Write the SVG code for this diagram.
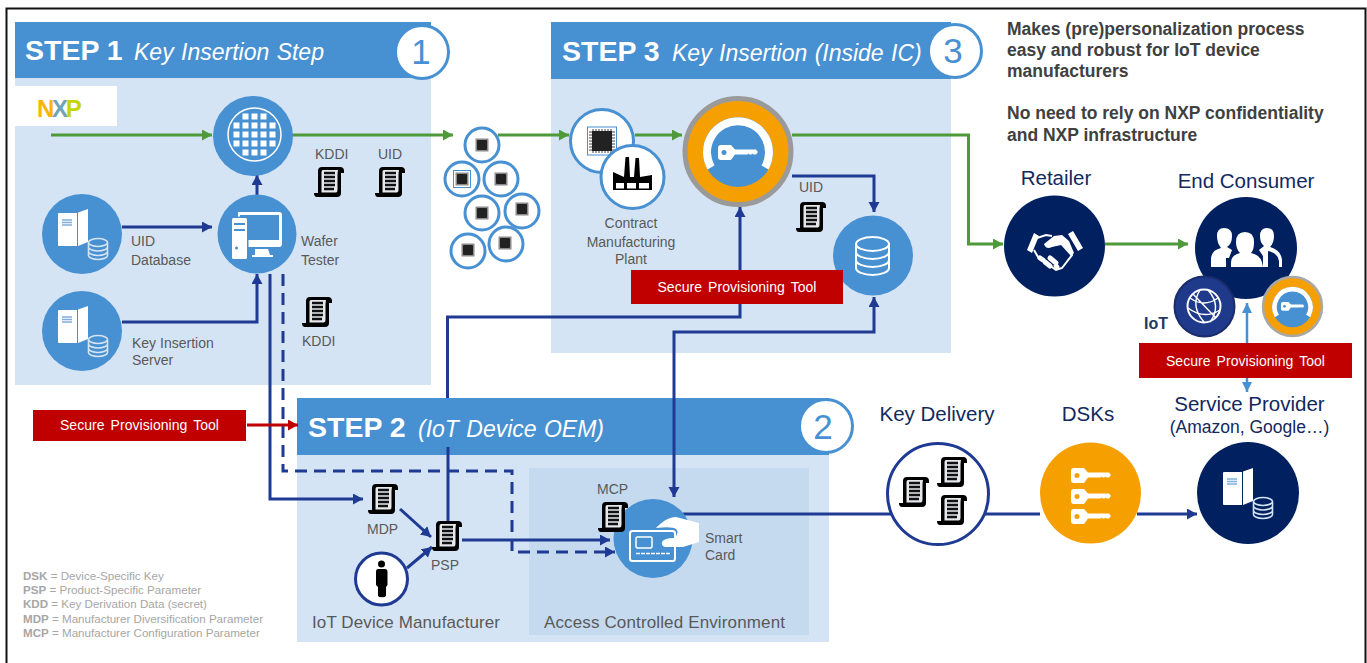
<svg xmlns="http://www.w3.org/2000/svg" width="1367" height="663" viewBox="0 0 1367 663">
<style>
text{font-family:"Liberation Sans",Arial,sans-serif}
.hd{fill:#4790D2}.bd{fill:#D5E4F4}
.st{font-size:28.500px;font-weight:700;fill:#fff}
.si{font-size:23px;font-style:italic;fill:#fff;word-spacing:1px}
.num{font-size:35px;fill:#4790D2;text-anchor:middle}
.nc{fill:#fff;stroke:#4790D2;stroke-width:3}
.lb{font-size:14px;fill:#595959}
.lm{font-size:17px;fill:#595959}
.tt{font-size:20.500px;fill:#12295E;text-anchor:middle}
.rt{font-size:14px;fill:#fff;text-anchor:middle;word-spacing:2px;letter-spacing:.05px}
.rd{fill:#C00000}
.kp{font-size:17.500px;font-weight:700;fill:#404040}
.lg{font-size:11.600px;fill:#A6A6A6}
.lg tspan{font-weight:700}
.n{fill:none;stroke:#1F3A93;stroke-width:3}
.g{fill:none;stroke:#4E9A3B;stroke-width:3}
.w{fill:none;stroke:#fff;stroke-width:2}
.navy{fill:#012060}.blue{fill:#4790D2}
</style>
<defs>
<marker id="an" markerUnits="userSpaceOnUse" markerWidth="12" markerHeight="12" refX="10" refY="5.5" orient="auto-start-reverse"><path d="M0 0L10 5.500L0 11Z" fill="#1F3A93"/></marker>
<marker id="ag" markerUnits="userSpaceOnUse" markerWidth="12" markerHeight="12" refX="10" refY="5.5" orient="auto"><path d="M0 0L10 5.500L0 11Z" fill="#4E9A3B"/></marker>
<marker id="ar" markerUnits="userSpaceOnUse" markerWidth="12" markerHeight="12" refX="10" refY="5.5" orient="auto"><path d="M0 0L10 5.500L0 11Z" fill="#C00000"/></marker>
<marker id="ab" markerUnits="userSpaceOnUse" markerWidth="12" markerHeight="12" refX="10" refY="5" orient="auto-start-reverse"><path d="M0 0L10 5L0 10Z" fill="#4790D2"/></marker>
<symbol id="scroll" overflow="visible">
<path d="M8 0H26Q30 0 30 4L30 6H27V26Q27 30 23 30H3Q0 30 0 26H4V4Q4 0 8 0Z" fill="#000"/>
<path d="M9 3H24Q23.500 6 23.500 8V23Q23.500 25 22 25.500H7.500V5Q7.500 3 9 3Z" fill="#E6E8EC"/>
<path d="M10 6H21M10 10H21M10 14H21M10 18H21M10 22H20" stroke="#111" stroke-width="2.500" fill="none"/>
</symbol>
<symbol id="server" overflow="visible">
<path d="M-23 -21H-5V12H-23Q-24 12-24 11V-20Q-24-21-23-21ZM-4-21.500L6-25V8L-4 12Z" fill="#fff"/>
<path d="M-20-14H-10M-20-11.500H-10M-20-9H-10" stroke="#7FAEDD" stroke-width="1.600"/>
<path d="M6.500 8.500a9.500 4 0 0 1 19 0v13a9.500 4 0 0 1-19 0ZM6.500 8.500a9.500 4 0 0 0 19 0M6.500 13a9.500 4 0 0 0 19 0M6.500 17.500a9.500 4 0 0 0 19 0" fill="none" stroke="#D5E4F4" stroke-width="1.600"/>
</symbol>
<symbol id="key" overflow="visible">
<path fill-rule="evenodd" fill="#fff" d="M3 0H13L17 4.500H38L40 7L38 9.500H35.500L34.500 8.500L33.500 9.500H31.500L30.500 8.500L29.500 9.500H17L13 15H3Q0 15 0 12V3Q0 0 3 0ZM6 5A2.500 2.500 0 1 0 6 10A2.500 2.500 0 1 0 6 5Z"/>
</symbol>
<symbol id="dial" overflow="visible">
<circle r="35" fill="#4790D2"/>
<path d="M-27 15.500A31 31 0 1 1 27 15.500" fill="none" stroke="#fff" stroke-width="8"/>
</symbol>
<symbol id="chip" overflow="visible">
<rect x="-6.500" y="-6.500" width="13" height="13" fill="#8A8A8A"/>
<rect x="-5" y="-5" width="10" height="10" rx="1" fill="#222"/>
</symbol>
</defs>

<path d="M6.500 663V8.500H1365.500V663" fill="none" stroke="#111" stroke-width="2"/>

<g id="panels">
<rect class="bd" x="15" y="78" width="416" height="307"/>
<rect class="hd" x="15" y="22" width="416" height="56"/>
<rect class="bd" x="551" y="79" width="400" height="274"/>
<rect class="hd" x="551" y="22" width="400" height="57"/>
<rect class="bd" x="297" y="455" width="532" height="187"/>
<rect class="hd" x="297" y="398" width="532" height="57"/>
<rect x="529" y="468" width="280" height="167" fill="#C5DAEF"/>
</g>

<g id="connectors">
<path class="g" marker-end="url(#ag)" d="M51 135H212"/>
<path class="g" marker-end="url(#ag)" d="M292 135H453"/>
<path class="g" marker-end="url(#ag)" d="M498 135H569"/>
<path class="g" marker-end="url(#ag)" d="M635 135H682"/>
<path class="g" marker-end="url(#ag)" d="M792 135H968.500V244H1003"/>
<path class="g" marker-end="url(#ag)" d="M1105 244H1188"/>
<path class="n" marker-end="url(#an)" d="M122 227H212"/>
<path class="n" marker-end="url(#an)" d="M257 195V175"/>
<path class="n" marker-end="url(#an)" d="M122 322H257V274"/>
<path class="n" marker-end="url(#an)" d="M270 274V499H363"/>
<path class="n" stroke-dasharray="12 7" marker-end="url(#an)" d="M283 274V471H512V552H615"/>
<path fill="none" stroke="#C00000" stroke-width="3" marker-end="url(#ar)" d="M247 425H298"/>
<path class="n" marker-end="url(#an)" d="M400 509L431 537"/>
<path class="n" marker-end="url(#an)" d="M407 568L432 547"/>
<path class="n" marker-end="url(#an)" d="M462 540H610"/>
<path class="n" d="M448 521V447"/>
<path class="n" marker-end="url(#an)" d="M447.500 398V317H740V207"/>
<path class="n" marker-start="url(#an)" marker-end="url(#an)" d="M674 497V332H874V297"/>
<path class="n" marker-end="url(#an)" d="M792 176H874V212"/>
<path class="n" d="M683 514H1040"/>
<path class="n" marker-end="url(#an)" d="M1137 514H1197"/>
<path fill="none" stroke="#4790D2" stroke-width="2.500" marker-start="url(#ab)" marker-end="url(#ab)" d="M1247 303V392"/>
</g>

<g id="header-text">
<text class="st" x="25" y="60">STEP 1</text><text class="si" x="134" y="60">Key Insertion Step</text>
<text class="st" x="562" y="61">STEP 3</text><text class="si" x="672" y="61">Key Insertion (Inside IC)</text>
<text class="st" x="308" y="437">STEP 2</text><text class="si" x="418" y="437">(IoT Device OEM)</text>
</g>
<g id="badge-1"><circle class="nc" cx="422" cy="52" r="26.500"/><text class="num" x="421" y="64">1</text></g>
<g id="badge-3"><circle class="nc" cx="955" cy="51" r="26.500"/><text class="num" x="953" y="63">3</text></g>
<g id="badge-2"><circle class="nc" cx="826" cy="426" r="26.500"/><text class="num" x="823" y="439">2</text></g>

<g id="nxp"><rect x="15" y="86" width="102" height="40" fill="#fff"/>
<text x="37" y="117" font-size="24" font-weight="700" letter-spacing="-2.300"><tspan fill="#F9B500">N</tspan><tspan fill="#6FA3B8">X</tspan><tspan fill="#C4D600">P</tspan></text></g>

<g id="wafer"><circle class="blue" cx="253" cy="136" r="40"/>
<circle cx="254.500" cy="134.500" r="26.500" class="w" style="stroke-width:1.500"/>
<path transform="translate(254.500 134.500)" d="M-12-18H12M-21-9H21M-21 0H21M-21 9H21M-12 18H12" stroke="#fff" stroke-width="6" stroke-dasharray="6 3" fill="none"/></g>

<g id="tester"><circle class="blue" cx="257" cy="234" r="39.500"/>
<path fill="#fff" fill-rule="evenodd" d="M238 212H279Q282 212 282 215V244Q282 247 279 247H238ZM240 215H279V240H240Z"/>
<path fill="#fff" d="M255 249H268L270 255H273V257H252V255H255Z"/>
<rect x="230.500" y="216.500" width="18" height="44" rx="1.500" fill="#4790D2"/>
<rect x="232" y="218" width="15" height="41" rx="1.500" fill="#fff"/>
<path d="M234 224H245M234 230H245" stroke="#4790D2" stroke-width="2"/><circle cx="236.500" cy="248" r="1.500" fill="#4790D2"/>
<text class="lb" x="301" y="246">Wafer</text><text class="lb" x="301" y="265">Tester</text></g>

<g id="uid-db"><circle class="blue" cx="82" cy="234" r="40"/><use href="#server" x="82" y="234"/>
<text class="lb" x="131" y="246">UID</text><text class="lb" x="131" y="265">Database</text></g>
<g id="key-server"><circle class="blue" cx="82" cy="331" r="40"/><use href="#server" x="82" y="331"/>
<text class="lb" x="132" y="348">Key Insertion</text><text class="lb" x="132" y="365">Server</text></g>

<g id="kddi-1"><text class="lb" x="315" y="159">KDDI</text><use href="#scroll" x="314" y="167"/></g>
<g id="uid-1"><text class="lb" x="378" y="159">UID</text><use href="#scroll" x="375" y="167"/></g>
<g id="kddi-2"><use href="#scroll" x="302" y="297"/><text class="lb" x="302" y="346">KDDI</text></g>

<g id="chips">
<g><circle class="nc" cx="482" cy="145" r="17"/><use href="#chip" x="482" y="145"/></g>
<g><circle class="nc" cx="462" cy="179" r="17"/><use href="#chip" x="462" y="179"/><rect x="453.500" y="170.500" width="17" height="17" fill="none" stroke="#4790D2"/></g>
<g><circle class="nc" cx="501" cy="179" r="17"/><use href="#chip" x="501" y="179"/></g>
<g><circle class="nc" cx="482" cy="213" r="17"/><use href="#chip" x="482" y="213"/></g>
<g><circle class="nc" cx="522" cy="211" r="17"/><use href="#chip" x="522" y="209"/></g>
<g><circle class="nc" cx="468" cy="251" r="17"/><use href="#chip" x="468" y="250"/></g>
<g><circle class="nc" cx="506" cy="244" r="17"/><use href="#chip" x="505" y="243"/></g>
</g>

<g id="ic-plant">
<circle class="nc" cx="602" cy="141" r="31.500"/>
<rect x="587.500" y="127" width="29" height="28" fill="#fff" stroke="#4790D2"/>
<path d="M593 129V153M596 129V153M599 129V153M602 129V153M605 129V153M608 129V153M611 129V153M589 132H615M589 135H615M589 138H615M589 141H615M589 144H615M589 147H615M589 150H615" stroke="#444" stroke-width="1"/>
<rect x="592" y="131" width="20" height="20" fill="#222"/>
<circle class="nc" cx="632.500" cy="177" r="31.500"/>
<path fill="#000" d="M613 190V172L624 177L625.500 157H629L630 177L634 177L635.500 158H639L640 177L652 175V190Z"/>
<path d="M616 183h8v5.500h-8zM627 183h9v5.500h-9zM639 183h10v5.500h-10z" fill="#fff"/>
<text class="lb" text-anchor="middle" x="631" y="228">Contract</text>
<text class="lb" text-anchor="middle" x="631" y="247">Manufacturing</text>
<text class="lb" text-anchor="middle" x="631" y="264">Plant</text>
</g>

<g id="key-insertion"><circle cx="738" cy="151.500" r="53" fill="#F5A000" stroke="#9A9A9A" stroke-width="5"/>
<use href="#dial" x="738" y="152"/><use href="#key" x="718" y="145"/></g>
<g id="uid-3"><text class="lb" x="799" y="192">UID</text><use href="#scroll" x="796" y="202"/></g>
<g id="database"><circle class="blue" cx="873" cy="255.500" r="40"/>
<path class="w" d="M856 244a16.500 7 0 0 1 33 0v24a16.500 7 0 0 1-33 0ZM856 244a16.500 7 0 0 0 33 0M856 252a16.500 7 0 0 0 33 0M856 260a16.500 7 0 0 0 33 0"/></g>

<g id="spt-b"><rect class="rd" x="631" y="270" width="212" height="34"/><text class="rt" x="737" y="292">Secure Provisioning Tool</text></g>
<g id="spt-a"><rect class="rd" x="33" y="410" width="213" height="31"/><text class="rt" x="139.500" y="430">Secure Provisioning Tool</text></g>
<g id="spt-c"><rect class="rd" x="1139" y="343" width="213" height="35"/><text class="rt" x="1245.500" y="366">Secure Provisioning Tool</text></g>

<g id="mdp"><use href="#scroll" x="368" y="484"/><text class="lb" x="367" y="534">MDP</text></g>
<g id="psp"><use href="#scroll" x="432" y="521"/><text class="lb" x="431" y="570">PSP</text></g>
<g id="manufacturer"><circle cx="381.500" cy="579" r="26" fill="#fff" stroke="#1F3A93" stroke-width="3"/>
<circle cx="381.500" cy="564" r="3.500"/><path d="M378 569H385Q387.500 569 387.500 572V585L386 587V596Q384 598 382 597Q380 598 378 596V587L376 585V572Q376 569 378 569Z"/>
<text class="lm" x="312" y="628" textLength="188">IoT Device Manufacturer</text></g>
<g id="smart-card"><circle class="blue" cx="653" cy="538.500" r="39.500"/>
<rect x="630" y="531" width="45" height="30" rx="2.500" class="w"/>
<rect x="636" y="537" width="16" height="11" rx="1.500" class="w" style="stroke-width:1.500"/>
<path d="M636 553.500H670" stroke="#fff" stroke-width="1.500" stroke-dasharray="4 1"/>
<path fill="#fff" d="M656 528C662 522 668 517 676 517L699 523V542L683 547H665Q661 546 662 542Q664 538 674 538Q680 533 676 529Q672 526 656 528Z"/>
<use href="#scroll" x="598" y="502"/>
<text class="lb" x="597" y="494">MCP</text>
<text class="lb" x="705" y="543">Smart</text><text class="lb" x="705" y="560">Card</text></g>
<text id="ace" class="lm" x="544" y="628" textLength="241">Access Controlled Environment</text>

<g id="key-delivery"><circle cx="938" cy="494" r="50.500" fill="#fff" stroke="#1F3A93" stroke-width="3"/>
<use href="#scroll" x="899" y="477"/><use href="#scroll" x="937" y="457"/><use href="#scroll" x="937" y="495"/>
<text class="tt" x="937" y="421">Key Delivery</text></g>
<g id="dsks"><circle cx="1090.500" cy="493" r="50.500" fill="#F5A000"/>
<use href="#key" x="1071" y="468"/><use href="#key" x="1071" y="489"/><use href="#key" x="1071" y="509"/>
<text class="tt" x="1088" y="421">DSKs</text></g>
<g id="service-provider"><circle class="navy" cx="1248" cy="493" r="51"/><use href="#server" x="1247" y="493"/>
<text class="tt" x="1249.500" y="411">Service Provider</text>
<text class="tt" x="1249.500" y="433" style="font-size:17.500px">(Amazon, Google…)</text></g>

<g id="retailer"><circle class="navy" cx="1054.500" cy="246" r="50.500"/>
<path fill="#fff" d="M1027 250L1034 233L1039 236L1032 253ZM1083 248L1073 231L1068 234L1078 251Z"/>
<path fill="none" stroke="#fff" stroke-width="2" d="M1037 238L1046 235L1052 236M1034 250L1038 257L1056 270L1062 268L1072 255L1066 240"/>
<path fill="#fff" d="M1044 244L1054 236L1062 235L1069 241L1074 253L1071 256L1061 245L1052 247Q1046 250 1044 244Z"/>
<path stroke="#fff" stroke-width="5" stroke-linecap="round" d="M1040 258L1043 260M1045 262L1050 266M1050 258L1056 263M1056 266L1057 267"/>
<text class="tt" x="1056" y="185">Retailer</text></g>

<g id="end-consumer"><circle class="navy" cx="1246" cy="248" r="51"/>
<path fill="#fff" d="M1224 228Q1232 228 1232 236Q1232 244 1227 247L1232 250L1229 258H1226V267H1211V258Q1212 250 1221 248Q1217 243 1217 236Q1217 228 1224 228ZM1267 228Q1274 228 1274 236Q1274 243 1270 247Q1281 250 1282 260V267H1279V261Q1278 253 1268 251V267H1263V256L1259 250L1264 246Q1260 243 1260 236Q1260 228 1267 228Z"/>
<path fill="#fff" d="M1245 232Q1254 232 1254 242Q1254 250 1251 253Q1262 255 1263 267H1231V263Q1231 255 1240 253Q1236 249 1236 242Q1236 232 1245 232Z"/>
<text class="tt" x="1246" y="188">End Consumer</text></g>
<g id="iot"><circle cx="1204.500" cy="306.500" r="30" fill="#1F3A8A" stroke="#1A2C6B" stroke-width="2"/>
<circle cx="1204" cy="306" r="16.500" class="w"/>
<path fill="none" stroke="#fff" stroke-width="1.400" d="M1190 298Q1204 308 1218 298M1188 308Q1204 320 1220 310M1200 290Q1190 306 1204 322M1208 290Q1222 306 1210 322M1193 294L1216 318"/>
<text x="1144" y="329" font-size="16" font-weight="700" fill="#1F3864">IoT</text></g>
<g id="iot-key"><circle cx="1292.500" cy="306.500" r="29.500" fill="#F5A000" stroke="#A8A8A8" stroke-width="2.500"/>
<use href="#dial" transform="translate(1292.500 307) scale(.58)"/><use href="#key" transform="translate(1281 302) scale(.58)"/></g>

<g id="notes">
<text class="kp" x="1007" y="35">Makes (pre)personalization process</text>
<text class="kp" x="1007" y="56">easy and robust for IoT device</text>
<text class="kp" x="1007" y="77">manufacturers</text>
<text class="kp" x="1007" y="119">No need to rely on NXP confidentiality</text>
<text class="kp" x="1007" y="141">and NXP infrastructure</text>
</g>
<g id="legend">
<text class="lg" x="23" y="580"><tspan>DSK</tspan> = Device-Specific Key</text>
<text class="lg" x="23" y="594"><tspan>PSP</tspan> = Product-Specific Parameter</text>
<text class="lg" x="23" y="608"><tspan>KDD</tspan> = Key Derivation Data (secret)</text>
<text class="lg" x="23" y="623"><tspan>MDP</tspan> = Manufacturer Diversification Parameter</text>
<text class="lg" x="23" y="637"><tspan>MCP</tspan> = Manufacturer Configuration Parameter</text>
</g>
</svg>
